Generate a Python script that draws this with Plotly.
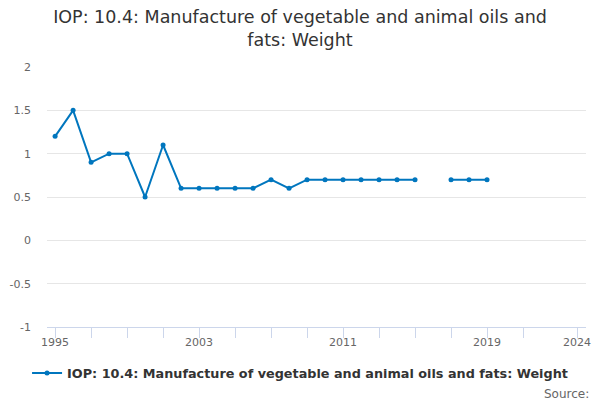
import plotly.graph_objects as go

years = list(range(1995, 2020))
values = [1.2, 1.5, 0.9, 1.0, 1.0, 0.5, 1.1, 0.6, 0.6, 0.6, 0.6, 0.6, 0.7, 0.6,
          0.7, 0.7, 0.7, 0.7, 0.7, 0.7, 0.7, None, 0.7, 0.7, 0.7]
series_name = "IOP: 10.4: Manufacture of vegetable and animal oils and fats: Weight"
title_text = "IOP: 10.4: Manufacture of vegetable and animal oils and<br>fats: Weight"
x_label_vals = [1995, 2003, 2011, 2019, 2024]
x_label_text = ["1995", "2003", "2011", "2019", "2024"]
x_tick_vals = [1995, 1997, 1999, 2001, 2003, 2005, 2007, 2009, 2011, 2013, 2015, 2017, 2019, 2021, 2024]
y_tick_vals = [-1, -0.5, 0, 0.5, 1, 1.5, 2]
y_tick_text = ["-1", "-0.5", "0", "0.5", "1", "1.5", "2"]

color = "#0076be"
font = "DejaVu Sans"

fig = go.Figure()
fig.add_trace(go.Scatter(
    x=years, y=values, mode="lines+markers", name=series_name,
    line=dict(color=color, width=2), marker=dict(color=color, size=5),
    connectgaps=False,
))

fig.update_layout(
    width=600, height=400,
    paper_bgcolor="white", plot_bgcolor="white",
    margin=dict(l=47, r=14, t=67, b=73, autoexpand=False),
    font=dict(family=font, color="#333333"),
    title=dict(text=title_text, x=0.5, xanchor="center", xref="container",
               y=0.9425, yanchor="top",
               font=dict(size=17.5, color="#333333", family=font)),
    showlegend=True,
    legend=dict(orientation="h", x=-0.037, xanchor="left", y=-0.12, yanchor="top",
                itemwidth=30,
                font=dict(size=12.8, color="#333333", family=font, weight="bold"),
                bgcolor="rgba(0,0,0,0)"),
    annotations=[dict(text="Source:", xref="paper", yref="paper", x=1.01, y=-0.223,
                      xanchor="right", yanchor="top", showarrow=False,
                      font=dict(size=12, color="#666666", family=font))],
)

fig.update_xaxes(
    range=[1994.55, 2024.5], tickvals=x_label_vals, ticktext=x_label_text,
    showgrid=False, zeroline=False, showline=True, linecolor="#ccd6eb", linewidth=1,
    ticks="", ticklabelstandoff=5,
    minor=dict(tickvals=x_tick_vals, ticks="outside", ticklen=10, tickcolor="#ccd6eb",
               tickwidth=1, showgrid=False),
    tickfont=dict(size=11, color="#666666", family=font),
)
fig.update_yaxes(
    range=[-1, 2], tickvals=y_tick_vals, ticktext=y_tick_text,
    showgrid=True, gridcolor="#e6e6e6", gridwidth=1, zeroline=False, showline=False,
    tickfont=dict(size=11, color="#666666", family=font), ticks="", ticklabelstandoff=15,
)

fig.write_html("out.html", config={"displayModeBar": False},
               post_script="document.body.style.margin='0';document.body.style.overflow='hidden';")
